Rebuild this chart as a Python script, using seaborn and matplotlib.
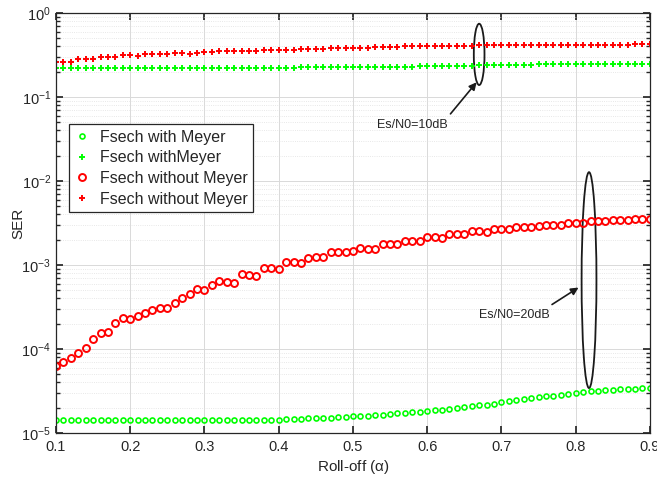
import numpy as np
import seaborn as sns
import matplotlib.pyplot as plt
from matplotlib.patches import Ellipse
from matplotlib.ticker import LogLocator, NullLocator

# roll-off factor
alpha = np.linspace(0.1, 0.9, 81)

# Es/N0 = 20 dB, Fsech with Meyer
ser_meyer_20 = np.array([
    1.415e-5, 1.415e-5, 1.415e-5, 1.415e-5, 1.415e-5, 1.415e-5, 1.415e-5, 1.415e-5, 1.415e-5, 1.415e-5,
    1.415e-5, 1.415e-5, 1.415e-5, 1.415e-5, 1.415e-5, 1.415e-5, 1.415e-5, 1.415e-5, 1.415e-5, 1.415e-5,
    1.415e-5, 1.415e-5, 1.415e-5, 1.415e-5, 1.415e-5, 1.415e-5, 1.434e-5, 1.434e-5, 1.434e-5, 1.434e-5,
    1.434e-5, 1.468e-5, 1.468e-5, 1.48e-5, 1.495e-5, 1.495e-5, 1.509e-5, 1.523e-5, 1.55e-5, 1.55e-5,
    1.579e-5, 1.594e-5, 1.609e-5, 1.624e-5, 1.653e-5, 1.684e-5, 1.715e-5, 1.73e-5, 1.762e-5, 1.795e-5,
    1.827e-5, 1.861e-5, 1.896e-5, 1.948e-5, 1.984e-5, 2.021e-5, 2.077e-5, 2.135e-5, 2.175e-5, 2.235e-5,
    2.318e-5, 2.382e-5, 2.448e-5, 2.516e-5, 2.61e-5, 2.659e-5, 2.733e-5, 2.783e-5, 2.86e-5, 2.94e-5,
    3.021e-5, 3.077e-5, 3.133e-5, 3.162e-5, 3.22e-5, 3.28e-5, 3.31e-5, 3.34e-5, 3.37e-5, 3.40e-5,
    3.40e-5])

# Es/N0 = 10 dB, Fsech with Meyer
ser_meyer_10 = np.array([
    0.2235, 0.2235, 0.2235, 0.2235, 0.2235, 0.2235, 0.2235, 0.2235, 0.2235, 0.2235,
    0.2235, 0.2235, 0.2235, 0.2235, 0.2235, 0.2235, 0.2235, 0.2235, 0.2235, 0.2235,
    0.2235, 0.2235, 0.2235, 0.2235, 0.2235, 0.2235, 0.2235, 0.2235, 0.2235, 0.2235,
    0.2235, 0.2235, 0.2235, 0.226, 0.226, 0.226, 0.226, 0.226, 0.228, 0.228,
    0.228, 0.228, 0.228, 0.230, 0.230, 0.230, 0.230, 0.230, 0.230, 0.232,
    0.232, 0.232, 0.232, 0.232, 0.234, 0.234, 0.234, 0.238, 0.238, 0.238,
    0.238, 0.242, 0.242, 0.242, 0.242, 0.245, 0.245, 0.245, 0.245, 0.245,
    0.245, 0.247, 0.247, 0.247, 0.247, 0.247, 0.247, 0.249, 0.249, 0.249,
    0.249])

# Es/N0 = 20 dB, Fsech without Meyer
ser_nomeyer_20 = np.array([
    6.2e-5, 6.95e-5, 7.9e-5, 9.0e-5, 1.03e-4, 1.33e-4, 1.55e-4, 1.59e-4, 2.05e-4, 2.32e-4,
    2.25e-4, 2.5e-4, 2.66e-4, 2.91e-4, 3.05e-4, 3.1e-4, 3.53e-4, 4.08e-4, 4.48e-4, 5.18e-4,
    5.04e-4, 5.78e-4, 6.45e-4, 6.28e-4, 6.17e-4, 7.74e-4, 7.6e-4, 7.5e-4, 9.1e-4, 9.1e-4,
    8.95e-4, 1.08e-3, 1.08e-3, 1.05e-3, 1.22e-3, 1.23e-3, 1.23e-3, 1.42e-3, 1.42e-3, 1.42e-3,
    1.47e-3, 1.61e-3, 1.57e-3, 1.54e-3, 1.78e-3, 1.78e-3, 1.78e-3, 1.94e-3, 1.94e-3, 1.94e-3,
    2.15e-3, 2.15e-3, 2.12e-3, 2.36e-3, 2.36e-3, 2.32e-3, 2.52e-3, 2.52e-3, 2.50e-3, 2.68e-3,
    2.68e-3, 2.68e-3, 2.86e-3, 2.86e-3, 2.86e-3, 2.91e-3, 3.02e-3, 3.02e-3, 3.02e-3, 3.16e-3,
    3.16e-3, 3.16e-3, 3.31e-3, 3.31e-3, 3.31e-3, 3.43e-3, 3.43e-3, 3.41e-3, 3.53e-3, 3.53e-3,
    3.53e-3])

# Es/N0 = 10 dB, Fsech without Meyer
ser_nomeyer_10 = np.array([
    0.263, 0.263, 0.263, 0.284, 0.284, 0.284, 0.299, 0.299, 0.299, 0.313,
    0.313, 0.311, 0.326, 0.323, 0.323, 0.323, 0.334, 0.331, 0.326, 0.337,
    0.340, 0.340, 0.350, 0.350, 0.350, 0.356, 0.356, 0.356, 0.363, 0.363,
    0.363, 0.366, 0.366, 0.370, 0.373, 0.373, 0.377, 0.380, 0.380, 0.380,
    0.380, 0.387, 0.387, 0.390, 0.394, 0.394, 0.394, 0.401, 0.401, 0.401,
    0.405, 0.405, 0.405, 0.409, 0.409, 0.409, 0.409, 0.412, 0.412, 0.412,
    0.412, 0.412, 0.412, 0.412, 0.412, 0.412, 0.416, 0.416, 0.416, 0.416,
    0.416, 0.416, 0.416, 0.416, 0.416, 0.416, 0.416, 0.416, 0.424, 0.424,
    0.425])

labels = ['Fsech with Meyer', 'Fsech withMeyer', 'Fsech without Meyer', 'Fsech without Meyer']

sns.set_theme(style='ticks')
plt.rcParams['font.family'] = ['Liberation Sans', 'DejaVu Sans']
plt.rcParams['mathtext.default'] = 'regular'
plt.rcParams['axes.unicode_minus'] = False

fig = plt.figure(figsize=(6.57, 4.8), dpi=100)
ax = fig.add_axes([0.0852, 0.0979, 0.904, 0.875])

green = '#00ff00'
red = '#ff0000'

sns.lineplot(x=alpha, y=ser_meyer_20, ax=ax, marker='o', linestyle='none', mfc='none',
             mec=green, mew=1.2, ms=3.6, color=green, label=labels[0])
sns.lineplot(x=alpha, y=ser_meyer_10, ax=ax, marker='+', linestyle='none',
             mec=green, mew=1.4, ms=4, color=green, label=labels[1])
sns.lineplot(x=alpha, y=ser_nomeyer_20, ax=ax, marker='o', linestyle='none', mfc='none',
             mec=red, mew=1.4, ms=5, color=red, label=labels[2])
sns.lineplot(x=alpha, y=ser_nomeyer_10, ax=ax, marker='+', linestyle='none',
             mec=red, mew=1.4, ms=4, color=red, label=labels[3])

ax.set_yscale('log')
ax.set_xlim(0.1, 0.9)
ax.set_ylim(1e-5, 1)
ax.set_xticks(np.arange(0.1, 0.91, 0.1))
ax.set_xticklabels(['0.1', '0.2', '0.3', '0.4', '0.5', '0.6', '0.7', '0.8', '0.9'])
ax.yaxis.set_major_locator(LogLocator(base=10, numticks=10))
ax.yaxis.set_minor_locator(LogLocator(base=10, subs=np.arange(2, 10), numticks=20))
ax.xaxis.set_minor_locator(NullLocator())

ax.grid(True, which='major', color='#d9d9d9', linewidth=0.7)
ax.yaxis.grid(True, which='minor', color='#e0e0e0', linestyle=':', linewidth=0.6)
ax.set_axisbelow(True)

for s in ax.spines.values():
    s.set_visible(True)
    s.set_color('#262626')
    s.set_linewidth(0.9)
ax.tick_params(which='both', direction='in', top=True, right=True, colors='#262626',
               labelsize=10.5)
ax.tick_params(which='major', length=5)
ax.tick_params(axis='x', pad=5)
ax.tick_params(which='minor', length=3)

ax.set_xlabel(r'Roll-off ($\alpha$)', fontsize=11, color='#262626', labelpad=3)
ax.set_ylabel('SER', fontsize=11, color='#262626')
ax.yaxis.set_label_coords(-0.052, 0.5)

leg = ax.legend(loc='upper left', bbox_to_anchor=(0.0214, 0.735), borderaxespad=0,
                fancybox=False, edgecolor='#262626', framealpha=1, fontsize=11.5,
                handlelength=1.0, handletextpad=0.6, labelspacing=0.35, borderpad=0.35)
leg.get_frame().set_linewidth(0.9)

# annotations: ellipses around the two groups and arrows
ax.add_patch(Ellipse((0.7125, 0.9015), 0.018, 0.146, transform=ax.transAxes,
                     fill=False, edgecolor='k', linewidth=1.3))
ax.add_patch(Ellipse((0.8975, 0.364), 0.025, 0.514, transform=ax.transAxes,
                     fill=False, edgecolor='k', linewidth=1.3))

ax.annotate('', xy=(0.669, 0.159), xytext=(0.629, 0.0594),
            arrowprops=dict(arrowstyle='-|>', color='k', lw=1.2, mutation_scale=11))
ax.text(0.58, 0.0464, 'Es/N0=10dB', ha='center', va='center', fontsize=9)

ax.annotate('', xy=(0.807, 5.62e-4), xytext=(0.765, 3.25e-4),
            arrowprops=dict(arrowstyle='-|>', color='k', lw=1.2, mutation_scale=11))
ax.text(0.717, 2.54e-4, 'Es/N0=20dB', ha='center', va='center', fontsize=9)

plt.savefig('out.png', dpi=100)
plt.close()
